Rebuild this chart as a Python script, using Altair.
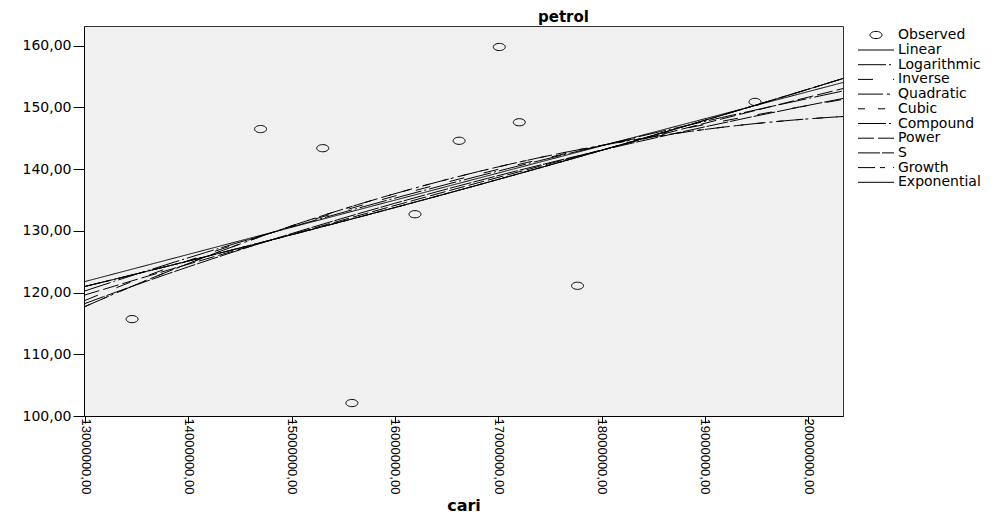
import altair as alt
import pandas as pd

cari = [13456000, 14699000, 15301000, 15583000, 16194000, 16621000, 17010000, 17204000, 17767000, 19485000]
petrol = [115.7, 146.5, 143.4, 102.1, 132.7, 144.6, 159.8, 147.6, 121.1, 150.9]

# Curve-estimation models as SPSS fits them:
# x transform ('m' = cari in millions, 'inv' = 1/x), y transform ('y' or 'lny'),
# vega regression method and order
model_names = ["Linear", "Logarithmic", "Inverse", "Quadratic", "Cubic",
               "Compound", "Power", "S", "Growth", "Exponential"]
model_x = ["m", "m", "inv", "m", "m", "m", "m", "inv", "m", "m"]
model_y = ["y", "y", "y", "y", "y", "lny", "y", "lny", "lny", "lny"]
model_methods = ["linear", "log", "poly", "quad", "quad", "poly", "pow", "poly", "poly", "poly"]
model_orders = [None, None, 1, None, None, 1, None, 1, 1, 1]

x_ticks = [13000000, 14000000, 15000000, 16000000, 17000000, 18000000, 19000000, 20000000]
y_ticks = [100, 110, 120, 130, 140, 150, 160]

x_domain = [12990000, 20337000]
y_domain = [100, 163.2]

dash_patterns = [[1, 0], [28, 3, 2, 3], [15, 20], [25, 4, 3, 4], [7, 13],
                 [28, 3, 2, 3], [16, 4], [22, 2], [17, 5, 5, 8], [1, 0]]

ellipse = ("M1,0C1,0.331,0.552,0.6,0,0.6C-0.552,0.6,-1,0.331,-1,0"
           "C-1,-0.331,-0.552,-0.6,0,-0.6C0.552,-0.6,1,-0.331,1,0Z")

df = pd.DataFrame({"cari": cari, "petrol": petrol})

num_expr = "replace(format(datum.value, '.2f'), '.', ',')"

x_enc = alt.X("cari:Q",
              scale=alt.Scale(domain=x_domain, nice=False, zero=False),
              axis=alt.Axis(values=x_ticks, labelExpr=num_expr, labelAngle=90,
                            labelFont="Liberation Sans", labelFontSize=13,
                            labelColor="black", tickSize=7, labelPadding=-5,
                            labelFlush=False, labelOverlap=False,
                            title="cari", titleFont="DejaVu Sans", titleFontSize=16,
                            titleFontWeight="bold", titleColor="black",
                            titleBaseline="alphabetic", titleY=94,
                            domainColor="black", tickColor="black", grid=False))
y_enc = alt.Y("petrol:Q",
              scale=alt.Scale(domain=y_domain, nice=False, zero=False),
              axis=alt.Axis(values=y_ticks, labelExpr=num_expr,
                            labelFont="DejaVu Sans", labelFontSize=14,
                            labelColor="black", tickSize=11, labelPadding=2,
                            labelFlush=False, labelOverlap=False, title=None,
                            domainColor="black", tickColor="black", grid=False))

legend_common = dict(title=None, orient="none", legendX=785, padding=0,
                     labelFont="DejaVu Sans", labelFontSize=14, labelColor="black",
                     labelOffset=15, symbolSize=144, symbolStrokeColor="black",
                     symbolStrokeWidth=1, symbolFillColor="transparent", rowPadding=0.7)

lines = []
for name, xt, yt, method, order in zip(model_names, model_x, model_y, model_methods, model_orders):
    c = alt.Chart(df)
    if xt == "inv":
        c = c.transform_calculate(xv="1000000 / datum.cari")
        ext = [1e6 / x_domain[1], 1e6 / x_domain[0]]
        back_x = "1000000 / datum.xv"
    else:
        c = c.transform_calculate(xv="datum.cari / 1000000")
        ext = [x_domain[0] / 1e6, x_domain[1] / 1e6]
        back_x = "datum.xv * 1000000"
    if yt == "lny":
        c = c.transform_calculate(yv="log(datum.petrol)")
        back_y = "exp(datum.yv)"
    else:
        c = c.transform_calculate(yv="datum.petrol")
        back_y = "datum.yv"
    kw = dict(method=method, extent=ext)
    if order is not None:
        kw["order"] = order
    c = c.transform_regression("xv", "yv", **kw)
    c = c.transform_calculate(cari=back_x, petrol=back_y, series=f"'{name}'")
    c = c.mark_line(color="black", strokeWidth=1, clip=True).encode(
        x=x_enc, y=y_enc,
        strokeDash=alt.StrokeDash("series:N",
                                  scale=alt.Scale(domain=model_names, range=dash_patterns),
                                  legend=alt.Legend(legendY=17, symbolType="M-3,0H3",
                                                    **legend_common)))
    lines.append(c)

points = alt.Chart(df).transform_calculate(series="'Observed'").mark_point(
    filled=False, size=144, strokeWidth=1, color="black", opacity=1
).encode(
    x=x_enc, y=y_enc,
    shape=alt.Shape("series:N", scale=alt.Scale(domain=["Observed"], range=[ellipse]),
                    legend=alt.Legend(legendY=2, **legend_common))
)

chart = alt.layer(*lines, points).properties(
    width=759, height=390,
    autosize=alt.AutoSizeParams(type="none"),
    padding={"left": 76, "top": 18, "right": 157, "bottom": 100},
    title=alt.TitleParams(text="petrol", font="DejaVu Sans", fontSize=15,
                          fontWeight="bold", color="black", anchor="middle",
                          dx=100, dy=20, baseline="alphabetic", offset=9),
).configure_view(fill="#f0f0f0", stroke="#333333", strokeWidth=1)

chart.save("out.html", embed_options={"renderer": "svg", "actions": False})
